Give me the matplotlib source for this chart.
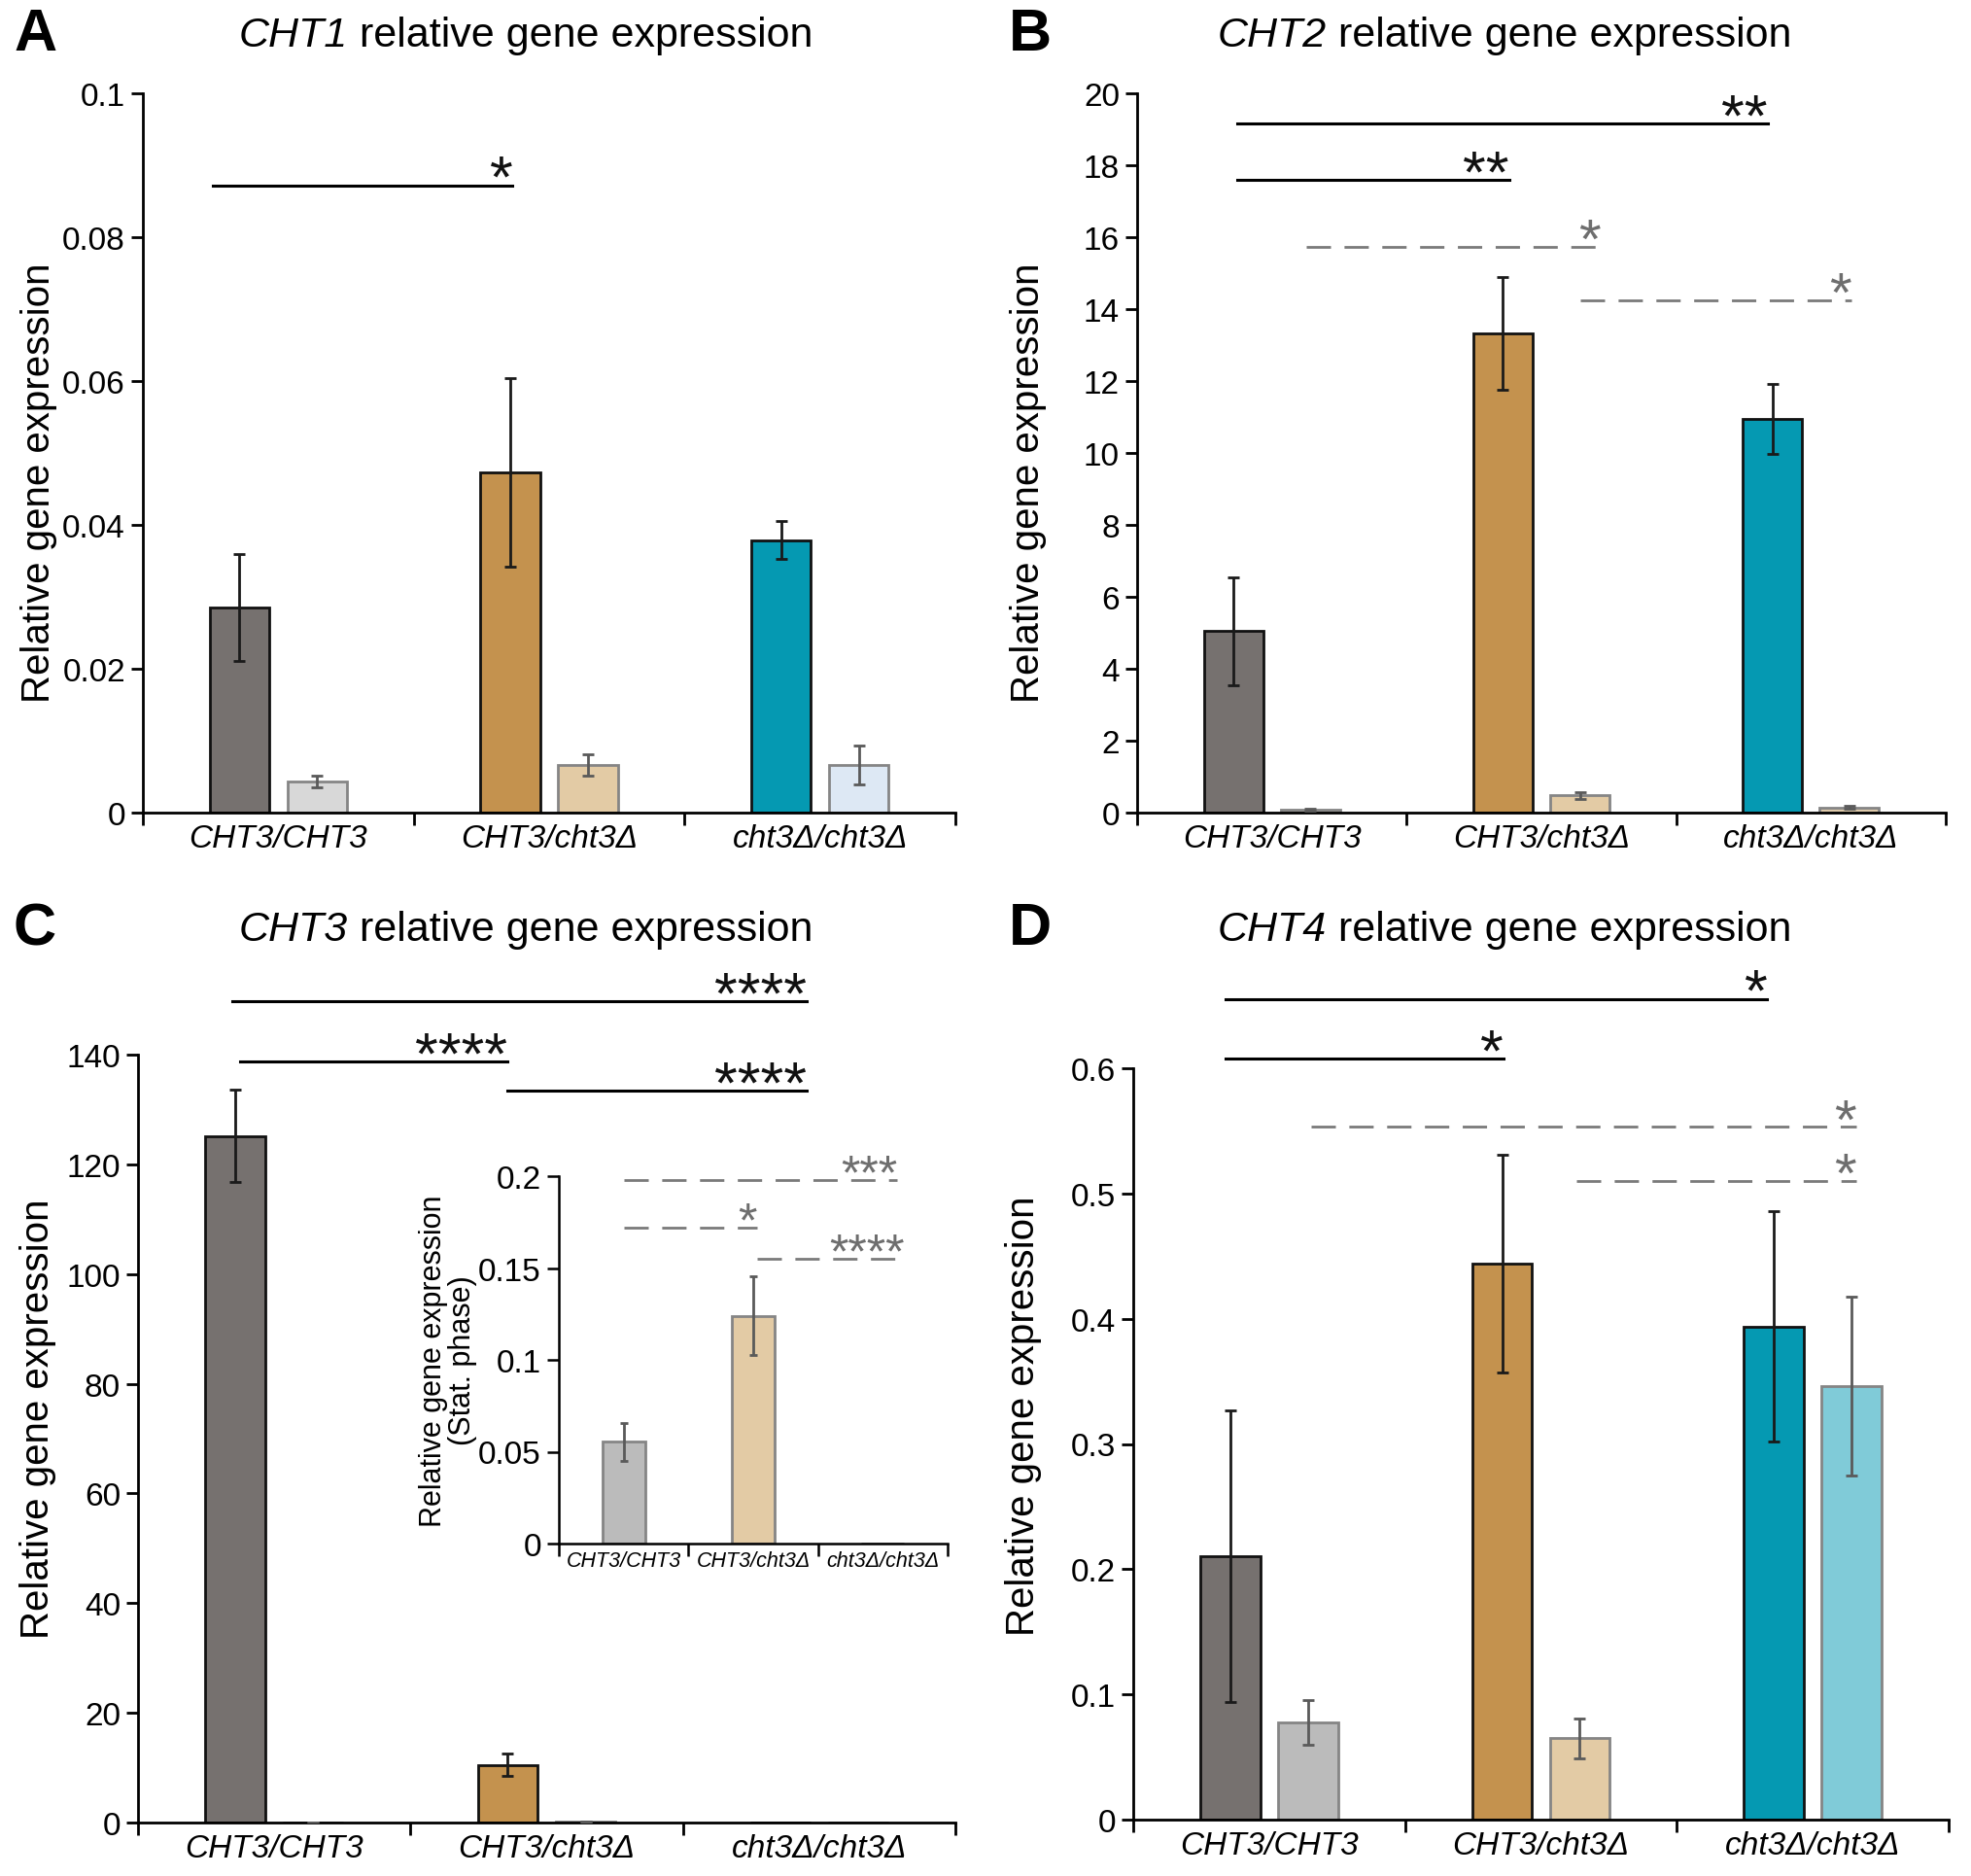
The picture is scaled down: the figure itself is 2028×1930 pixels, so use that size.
import matplotlib

matplotlib.use("Agg")
import matplotlib.pyplot as plt
import numpy as np
from matplotlib.offsetbox import AnnotationBbox, HPacker, TextArea

plt.rcParams["font.family"] = ["Liberation Sans", "DejaVu Sans"]

FIG_W, FIG_H = 2028, 1931

GENOTYPES = ["CHT3/CHT3", "CHT3/cht3Δ", "cht3Δ/cht3Δ"]

# dark bars = log phase, light bars = stationary phase
CHT1_LOG = [0.0285, 0.0473, 0.0379]
CHT1_LOG_ERR = [0.0074, 0.0131, 0.0026]
CHT1_STAT = [0.0043, 0.0066, 0.0066]
CHT1_STAT_ERR = [0.0008, 0.0015, 0.0027]

CHT2_LOG = [5.05, 13.32, 10.94]
CHT2_LOG_ERR = [1.50, 1.57, 0.98]
CHT2_STAT = [0.08, 0.48, 0.14]
CHT2_STAT_ERR = [0.03, 0.10, 0.04]

CHT3_LOG = [125.2, 10.5, 0.0]
CHT3_LOG_ERR = [8.4, 2.0, 0.0]
CHT3_STAT = [0.0554, 0.1239, 0.0]
CHT3_STAT_ERR = [0.0104, 0.0215, 0.0]

CHT4_LOG = [0.2104, 0.4438, 0.3938]
CHT4_LOG_ERR = [0.1165, 0.087, 0.092]
CHT4_STAT = [0.0776, 0.0649, 0.3463]
CHT4_STAT_ERR = [0.018, 0.016, 0.0715]

# significance brackets: (x start, x end, y, stars, dashed)
CHT1_SIG = [(-0.24, 0.865, 0.0872, "*", False)]
CHT2_SIG = [
    (-0.127, 1.84, 19.16, "**", False),
    (-0.127, 0.88, 17.59, "**", False),
    (0.127, 1.22, 15.73, "*", True),
    (1.145, 2.15, 14.25, "*", True),
]
CHT3_SIG = [
    (-0.153, 1.955, 149.7, "****", False),
    (-0.125, 0.856, 138.7, "****", False),
    (0.856, 1.955, 133.4, "****", False),
]
CHT3_STAT_SIG = [
    (0.0, 2.11, 0.198, "***", True),
    (0.0, 1.03, 0.172, "*", True),
    (1.03, 2.17, 0.155, "****", True),
]
CHT4_SIG = [
    (-0.162, 1.833, 0.6553, "*", False),
    (-0.162, 0.862, 0.6077, "*", False),
    (0.153, 2.16, 0.5531, "*", True),
    (1.129, 2.16, 0.5102, "*", True),
]

CHT1_TICKS = [0, 0.02, 0.04, 0.06, 0.08, 0.1]
CHT1_TICKLABELS = ["0", "0.02", "0.04", "0.06", "0.08", "0.1"]
CHT2_TICKS = [0, 2, 4, 6, 8, 10, 12, 14, 16, 18, 20]
CHT3_TICKS = [0, 20, 40, 60, 80, 100, 120, 140]
CHT3_STAT_TICKS = [0, 0.05, 0.1, 0.15, 0.2]
CHT3_STAT_TICKLABELS = ["0", "0.05", "0.1", "0.15", "0.2"]
CHT4_TICKS = [0, 0.1, 0.2, 0.3, 0.4, 0.5, 0.6]
CHT4_TICKLABELS = ["0", "0.1", "0.2", "0.3", "0.4", "0.5", "0.6"]

DARK_COLORS = ["#76716F", "#C4924E", "#0599B2"]
LIGHT_A = ["#D8D8D8", "#E3CBA5", "#DDE8F4"]
LIGHT_B = ["#BDB8B2", "#E3CBA5", "#DDC9AA"]
LIGHT_C = ["#BBBBBB", "#E3CBA5", "#80CBD8"]
LIGHT_D = ["#BBBBBB", "#E3CBA5", "#80CBD8"]

STAR_GRAY = "#6E6E6E"
DASH_GRAY = "#7A7A7A"


def px_axes(fig, left, top, right, bottom):
    return fig.add_axes([left / FIG_W, 1 - bottom / FIG_H, (right - left) / FIG_W, (bottom - top) / FIG_H])


def style_axes(ax, ymax, ticks, ticklabels, label_size=24, xlabel_size=24, lw=2.0):
    ax.set_xlim(-0.5, 2.5)
    ax.set_ylim(0, ymax)
    for side in ("top", "right"):
        ax.spines[side].set_visible(False)
    for side in ("left", "bottom"):
        ax.spines[side].set_linewidth(lw)
    ax.set_yticks(ticks)
    ax.set_yticklabels(ticklabels if ticklabels else [str(t) for t in ticks], fontsize=label_size)
    ax.tick_params(axis="y", direction="out", length=9, width=lw, pad=4)
    ax.set_xticks([-0.5, 0.5, 1.5, 2.5])
    ax.set_xticklabels([])
    ax.tick_params(axis="x", which="major", direction="out", length=9, width=lw)
    ax.set_xticks(np.arange(len(GENOTYPES)), minor=True)
    ax.set_xticklabels(GENOTYPES, minor=True, fontsize=xlabel_size, style="italic")
    ax.tick_params(axis="x", which="minor", length=0, pad=8)


def draw_pairs(ax, log_vals, log_err, stat_vals, stat_err, light_colors):
    x = np.arange(len(GENOTYPES))
    off, width = 0.143, 0.22
    ax.bar(x - off, log_vals, width=width, color=DARK_COLORS, edgecolor="#111111", linewidth=2.0, zorder=2)
    ax.bar(x + off, stat_vals, width=width, color=light_colors, edgecolor="#858585", linewidth=2.0, zorder=2)
    log_err = np.array(log_err)
    stat_err = np.array(stat_err)
    mask = log_err > 0
    ax.errorbar((x - off)[mask], np.array(log_vals)[mask], yerr=log_err[mask], fmt="none",
                ecolor="#1A1A1A", elinewidth=2.0, capsize=4, capthick=2.0, zorder=3)
    mask = stat_err > 0
    ax.errorbar((x + off)[mask], np.array(stat_vals)[mask], yerr=stat_err[mask], fmt="none",
                ecolor="#5A5A5A", elinewidth=2.0, capsize=4, capthick=2.0, zorder=3)


def draw_sig(ax, sig, star_size=44, dash_size=42, text_offset=-8):
    for x0, x1, y, stars, dashed in sig:
        if dashed:
            ax.plot([x0, x1], [y, y], color=DASH_GRAY, linewidth=2.0, linestyle=(0, (9, 5)),
                    clip_on=False, zorder=4)
            color, size = STAR_GRAY, dash_size
        else:
            ax.plot([x0, x1], [y, y], color="black", linewidth=2.2, clip_on=False, zorder=4)
            color, size = "#111111", star_size
        ax.annotate(stars, xy=(x1, y), xytext=(0, text_offset), textcoords="offset points",
                    ha="right", va="baseline", fontsize=size, color=color, annotation_clip=False)


def add_title(fig, x_px, y_px, gene, letter, letter_x_px):
    box = HPacker(
        children=[
            TextArea(gene, textprops=dict(fontsize=31, style="italic")),
            TextArea(" relative gene expression", textprops=dict(fontsize=31)),
        ],
        align="baseline", pad=0, sep=0,
    )
    ab = AnnotationBbox(box, (x_px / FIG_W, 1 - y_px / FIG_H), xycoords="figure fraction",
                        frameon=False, box_alignment=(0.5, 0.5), pad=0)
    fig.add_artist(ab)
    fig.text(letter_x_px / FIG_W, 1 - y_px / FIG_H, letter, ha="left", va="center",
             fontsize=44, fontweight="bold")


def main():
    fig = plt.figure(figsize=(FIG_W / 100, FIG_H / 100), dpi=100)

    # A
    ax = px_axes(fig, 147, 97, 983, 837)
    style_axes(ax, 0.1, CHT1_TICKS, CHT1_TICKLABELS)
    draw_pairs(ax, CHT1_LOG, CHT1_LOG_ERR, CHT1_STAT, CHT1_STAT_ERR, LIGHT_A)
    draw_sig(ax, CHT1_SIG)
    ax.set_ylabel("Relative gene expression", fontsize=29)
    ax.yaxis.set_label_coords(-0.105, 0.46)
    add_title(fig, 541, 37, "CHT1", "A", 14)

    # B
    ax = px_axes(fig, 1170, 97, 2002, 837)
    style_axes(ax, 20, CHT2_TICKS, None)
    draw_pairs(ax, CHT2_LOG, CHT2_LOG_ERR, CHT2_STAT, CHT2_STAT_ERR, LIGHT_B)
    draw_sig(ax, CHT2_SIG)
    ax.set_ylabel("Relative gene expression", fontsize=29)
    ax.yaxis.set_label_coords(-0.112, 0.46)
    add_title(fig, 1548, 37, "CHT2", "B", 1038)

    # C
    ax = px_axes(fig, 142, 1086, 983, 1876)
    style_axes(ax, 140, CHT3_TICKS, None)
    draw_pairs(ax, CHT3_LOG, CHT3_LOG_ERR, CHT3_STAT, CHT3_STAT_ERR, LIGHT_C)
    draw_sig(ax, CHT3_SIG)
    ax.set_ylabel("Relative gene expression", fontsize=29)
    ax.yaxis.set_label_coords(-0.1, 0.527)
    add_title(fig, 541, 957, "CHT3", "C", 14)

    # C inset (stationary phase)
    ins = px_axes(fig, 575, 1211, 975, 1589)
    style_axes(ins, 0.2, CHT3_STAT_TICKS, CHT3_STAT_TICKLABELS, label_size=24, xlabel_size=15.5, lw=1.8)
    ins.tick_params(axis="x", which="minor", pad=5)
    x = np.arange(len(GENOTYPES))
    ins.bar(x, CHT3_STAT, width=0.33, color=LIGHT_C, edgecolor="#858585", linewidth=2.0, zorder=2)
    err = np.array(CHT3_STAT_ERR)
    mask = err > 0
    ins.errorbar(x[mask], np.array(CHT3_STAT)[mask], yerr=err[mask], fmt="none", ecolor="#5A5A5A",
                 elinewidth=2.0, capsize=3, capthick=2.0, zorder=3)
    draw_sig(ins, CHT3_STAT_SIG, dash_size=36, text_offset=-6)
    ins.set_ylabel("Relative gene expression\n(Stat. phase)", fontsize=22, linespacing=1.0)
    ins.yaxis.set_label_coords(-0.21, 0.5)
    ins.patch.set_alpha(0)

    # D
    ax = px_axes(fig, 1166, 1100, 2005, 1873)
    style_axes(ax, 0.6, CHT4_TICKS, CHT4_TICKLABELS)
    draw_pairs(ax, CHT4_LOG, CHT4_LOG_ERR, CHT4_STAT, CHT4_STAT_ERR, LIGHT_D)
    draw_sig(ax, CHT4_SIG)
    ax.set_ylabel("Relative gene expression", fontsize=29)
    ax.yaxis.set_label_coords(-0.112, 0.538)
    add_title(fig, 1548, 957, "CHT4", "D", 1038)

    fig.savefig("out.png", dpi=100)
    plt.close(fig)


if __name__ == "__main__":
    main()
